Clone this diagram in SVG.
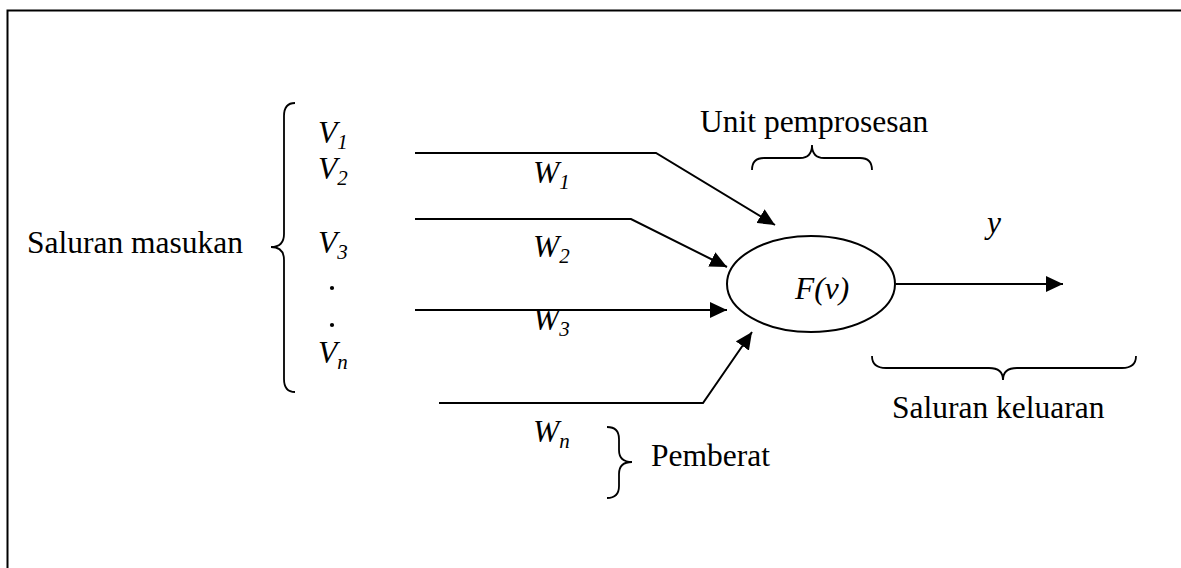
<svg xmlns="http://www.w3.org/2000/svg" width="1181" height="568" viewBox="0 0 1181 568">
<style>
  .t { font-family: "Liberation Serif", "Times New Roman", serif; font-size: 31.5px; fill: #000; }
  .i { font-style: italic; }
  .sub { font-size: 21px; }
  .ln { fill: none; stroke: #000; stroke-width: 2; }
  .br { fill: none; stroke: #000; stroke-width: 1.8; }
</style>
<defs>
  <marker id="ah" markerUnits="userSpaceOnUse" markerWidth="18" markerHeight="16" refX="17" refY="8" orient="auto">
    <path d="M0,0 L17,8 L0,16 z" fill="#000"/>
  </marker>
</defs>
<rect width="1181" height="568" fill="#fff"/>
<path d="M7.5,600 L7.5,10.5 L1200,10.5" fill="none" stroke="#000" stroke-width="2"/>

<g id="input-label">
  <text class="t" x="27" y="253">Saluran masukan</text>
  <path class="br" d="M295,103 Q284,103 284,116 L284,234 Q284,247 271,247 Q284,247 284,260 L284,379 Q284,392 295,392"/>
</g>

<g id="inputs">
  <text class="t i" x="318" y="143">V<tspan class="sub" dy="6">1</tspan></text>
  <text class="t i" x="318" y="179">V<tspan class="sub" dy="6">2</tspan></text>
  <text class="t i" x="318" y="253">V<tspan class="sub" dy="6">3</tspan></text>
  <circle cx="332" cy="288" r="2.1" fill="#000"/>
  <circle cx="332" cy="325" r="2.1" fill="#000"/>
  <text class="t i" x="318" y="363">V<tspan class="sub" dy="6">n</tspan></text>
</g>

<g id="connectors">
  <polyline class="ln" points="415,153 656,153 775,225" marker-end="url(#ah)"/>
  <polyline class="ln" points="415,219 631,219 727,267" marker-end="url(#ah)"/>
  <polyline class="ln" points="415,310 727,310" marker-end="url(#ah)"/>
  <polyline class="ln" points="439,403 703,403 752,332" marker-end="url(#ah)"/>
  <polyline class="ln" points="896,284 1063,284" marker-end="url(#ah)"/>
</g>

<g id="weights">
  <text class="t i" x="533" y="183">W<tspan class="sub" dy="6">1</tspan></text>
  <text class="t i" x="533" y="257">W<tspan class="sub" dy="6">2</tspan></text>
  <text class="t i" x="533" y="330">W<tspan class="sub" dy="6">3</tspan></text>
  <text class="t i" x="533" y="442">W<tspan class="sub" dy="6">n</tspan></text>
</g>

<g id="pemberat">
  <path class="br" d="M607,427 Q619,427 619,439 L619,450 Q619,462 632,462 Q619,462 619,474 L619,486 Q619,498 607,498"/>
  <text class="t" x="651" y="466">Pemberat</text>
</g>

<g id="unit">
  <text class="t" x="700" y="132">Unit pemprosesan</text>
  <path class="br" d="M752,170 Q752,158 764,158 L800,158 Q812,158 812,145 Q812,158 824,158 L860,158 Q872,158 872,170"/>
</g>

<g id="neuron">
  <ellipse cx="811" cy="284" rx="84" ry="48" fill="none" stroke="#000" stroke-width="2"/>
  <text class="t i" x="795" y="299">F(v)</text>
</g>

<g id="output">
  <text class="t i" x="987" y="233">y</text>
  <path class="br" d="M872,356 Q872,368 886,368 L989,368 Q1003,368 1003,380 Q1003,368 1017,368 L1122,368 Q1136,368 1136,356"/>
  <text class="t" x="892" y="418">Saluran keluaran</text>
</g>
</svg>
